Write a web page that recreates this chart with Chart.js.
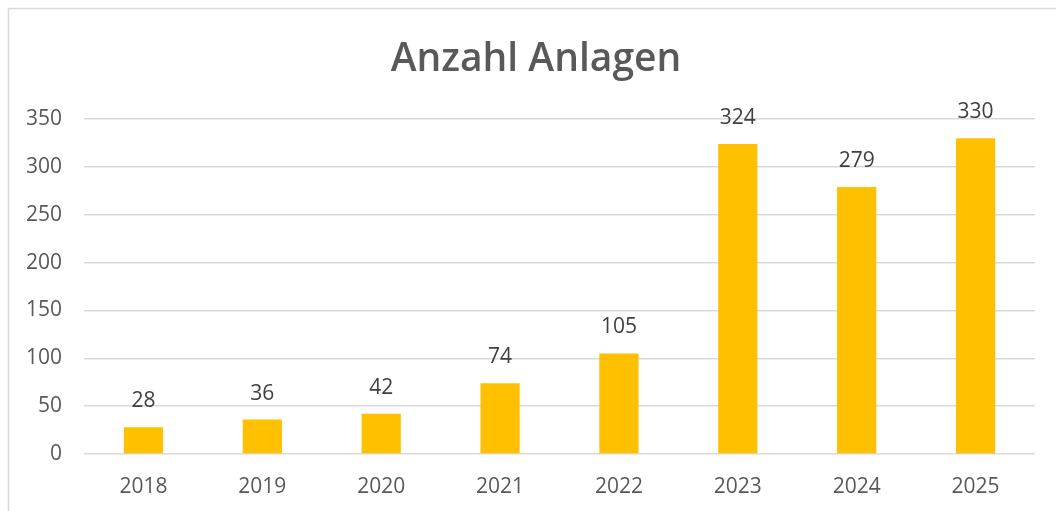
<!DOCTYPE html>
<html>
<head>
<meta charset="utf-8">
<script src="https://cdn.jsdelivr.net/npm/chart.js@4.4.1/dist/chart.umd.min.js"></script>
<style>
  html, body { margin: 0; padding: 0; background: #fff; overflow: hidden; }
  #wrap { position: relative; width: 1056px; height: 511px; }
</style>
</head>
<body>
<div id="wrap"><canvas id="c"></canvas></div>
<script>
// values
const years = ["2018", "2019", "2020", "2021", "2022", "2023", "2024", "2025"];
const anlagen = [28, 36, 42, 74, 105, 324, 279, 330];
const yTicks = [0, 50, 100, 150, 200, 250, 300, 350];
const chartTitle = "Anzahl Anlagen";

const FONT = "'Open Sans', 'Noto Sans', sans-serif";

// light frame on the left and top edge, plus the title centred on the frame
const framePlugin = {
    id: "frame",
    beforeDraw: function (chart) {
        const ctx = chart.ctx;
        ctx.save();
        ctx.strokeStyle = "#d9d9d9";
        ctx.lineWidth = 1.5;
        ctx.beginPath();
        ctx.moveTo(8.5, chart.height);
        ctx.lineTo(8.5, 8.5);
        ctx.lineTo(chart.width, 8.5);
        ctx.stroke();
        ctx.font = "600 39px " + FONT;
        ctx.fillStyle = "#595959";
        ctx.textAlign = "center";
        ctx.textBaseline = "middle";
        ctx.fillText(chartTitle, 536, 60);
        ctx.restore();
    },
};

// value labels above every bar
const valueLabels = {
    id: "valueLabels",
    afterDatasetsDraw: function (chart) {
        const ctx = chart.ctx;
        const meta = chart.getDatasetMeta(0);
        ctx.save();
        ctx.font = "21px " + FONT;
        ctx.fillStyle = "#404040";
        ctx.textAlign = "center";
        ctx.textBaseline = "middle";
        meta.data.forEach((bar, i) => {
            ctx.fillText(String(chart.data.datasets[0].data[i]), bar.x, bar.y - 26);
        });
        ctx.restore();
    },
};

new Chart(document.getElementById("c"), {
    type: "bar",
    data: {
        labels: years,
        datasets: [
            {
                data: anlagen,
                backgroundColor: "#ffc000",
                borderWidth: 0,
                categoryPercentage: 1,
                barPercentage: 0.33,
            },
        ],
    },
    options: {
        responsive: true,
        maintainAspectRatio: false,
        animation: false,
        layout: { padding: { left: 0, right: 21, top: 119, bottom: 0 } },
        plugins: {
            legend: { display: false },
            tooltip: { enabled: false },
            title: { display: false },
        },
        scales: {
            x: {
                grid: { display: false, drawTicks: false },
                border: { display: false },
                afterFit: function (axis) {
                    axis.height = 57;
                },
                ticks: {
                    color: "#595959",
                    padding: 20,
                    font: { size: 21, family: FONT },
                },
            },
            y: {
                min: 0,
                max: 350,
                afterBuildTicks: function (axis) {
                    axis.ticks = yTicks.map((v) => ({ value: v }));
                },
                afterFit: function (axis) {
                    axis.width = 84;
                },
                grid: { color: "#d9d9d9", lineWidth: 1.5, drawTicks: false },
                border: { display: false },
                ticks: {
                    color: "#595959",
                    padding: 22,
                    font: { size: 21, family: FONT },
                },
            },
        },
    },
    plugins: [framePlugin, valueLabels],
});
</script>
</body>
</html>
